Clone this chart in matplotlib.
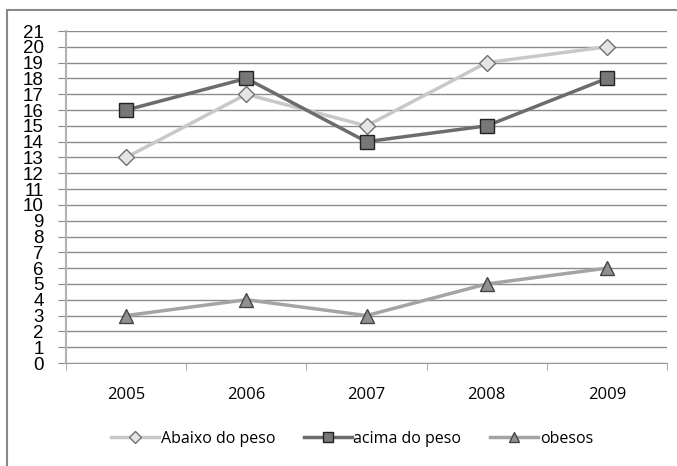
import matplotlib
matplotlib.use("Agg")
from matplotlib import pyplot as plt
from matplotlib.patches import Rectangle

years = ["2005", "2006", "2007", "2008", "2009"]
abaixo = [13, 17, 15, 19, 20]
acima = [16, 18, 14, 15, 18]
obesos = [3, 4, 3, 5, 6]
yticks = list(range(0, 22))

plt.rcParams['font.family'] = ['Open Sans', 'DejaVu Sans']

fig = plt.figure(figsize=(6.77, 4.66), dpi=100)
ax = fig.add_axes([66 / 677, 103 / 466, 601 / 677, 332 / 466])

x = list(range(len(years)))
ax.plot(x, abaixo, color="#c8c8c8", lw=2.5, marker="D", ms=8,
        mfc="#e4e4e4", mec="#707070", mew=1, label="Abaixo do peso")
ax.plot(x, acima, color="#6c6c6c", lw=2.5, marker="s", ms=10,
        mfc="#777777", mec="#222222", mew=1, label="acima do peso")
ax.plot(x, obesos, color="#a4a4a4", lw=2.5, marker="^", ms=10,
        mfc="#909090", mec="#444444", mew=1, label="obesos")

ax.set_xlim(-0.5, 4.5)
ax.set_ylim(0, 21)
ax.set_yticks(yticks)
ax.set_yticklabels([str(v) for v in yticks], fontsize=13.5,
                   family=["Liberation Sans Narrow", "Liberation Sans"])
ax.set_xticks(x)
ax.set_xticklabels(years, fontsize=12)
ax.set_xticks([i - 0.5 for i in range(len(years) + 1)], minor=True)
ax.tick_params(axis="x", which="major", length=0, pad=17)
ax.tick_params(axis="x", which="minor", length=5, color="#999999", direction="out")
ax.tick_params(axis="y", length=6, color="#888888", pad=10)
ax.grid(axis="y", color="#8c8c8c", lw=1)
ax.set_axisbelow(True)
for s in ["top", "right"]:
    ax.spines[s].set_visible(False)
ax.spines["left"].set_color("#b0b0b0")
ax.spines["left"].set_linewidth(1.5)
ax.spines["bottom"].set_color("#999999")

fig.legend(loc="center", bbox_to_anchor=(352 / 677, 1 - 439 / 466), ncol=3,
           frameon=False, fontsize=11.5, handlelength=3.0, columnspacing=1.8,
           handletextpad=0.1, markerscale=0.75)

fig.add_artist(Rectangle((7 / 677, -0.1), 1.2, (1 - 10 / 466) + 0.1,
                         transform=fig.transFigure, fill=False,
                         edgecolor="#888888", lw=1.5))

fig.savefig("out.png", dpi=100)
